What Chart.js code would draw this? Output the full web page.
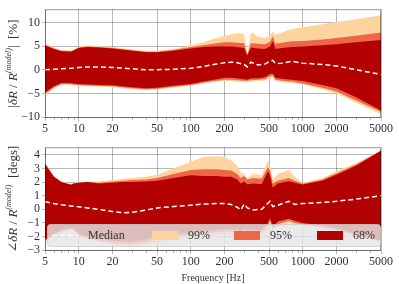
<!DOCTYPE html>
<html>
<head>
<meta charset="utf-8">
<script src="https://cdn.jsdelivr.net/npm/chart.js@4/dist/chart.umd.min.js"></script>
<style>
	body{margin:0;background:#fff;width:399px;height:284px;overflow:hidden;position:relative}
	canvas{position:absolute;left:0}
	#magChart{top:0}
	#phaseChart{top:138px}
</style>
</head>
<body>
<canvas id="magChart" width="399" height="138" style="width:399px;height:138px"></canvas>
<canvas id="phaseChart" width="399" height="146" style="width:399px;height:146px"></canvas>
<script>
// tick labels
const	xTicks = [5, 10, 20, 50, 100, 200, 500, 1000, 2000, 5000],
		magTicks = [-10, -5, 0, 5, 10],
		phaseTicks = [-3, -2, -1, 0, 1, 2, 3, 4],
		legendLabels = ['Median', '99%', '95%', '68%'];

// magnitude panel [%]
const	magFreq = [5, 6, 7, 8.5, 9, 10, 12, 15, 20, 30, 40, 50, 70, 100, 130, 170, 200, 230, 260, 300, 320, 345, 400, 460, 510, 540, 570, 650, 800, 1000, 1500, 2000, 3000, 5000],
		magMedian = [0.0, 0.1, 0.2, 0.3, 0.35, 0.5, 0.6, 0.6, 0.5, 0.2, 0.0, 0.0, 0.1, 0.3, 0.7, 1.2, 1.5, 1.6, 1.5, 1.1, 0.6, 1.6, 1.0, 1.2, 1.8, 2.0, 1.3, 1.4, 1.8, 1.4, 1.1, 0.8, 0.0, -1.0],
		mag68Hi = [5.2, 4.4, 3.9, 3.8, 4.0, 4.6, 4.8, 4.7, 4.5, 4.0, 3.7, 3.7, 4.0, 4.5, 4.8, 4.9, 4.9, 4.9, 4.8, 4.6, 3.0, 4.7, 4.5, 4.4, 4.9, 6.0, 4.4, 4.6, 4.8, 4.9, 5.2, 5.4, 5.8, 6.3],
		mag68Lo = [-4.8, -3.5, -2.8, -2.8, -2.9, -3.0, -3.1, -3.2, -3.3, -3.7, -3.9, -3.8, -3.4, -3.0, -2.5, -2.0, -1.7, -1.7, -1.8, -2.0, -2.1, -1.8, -1.8, -1.6, -0.9, -0.8, -1.7, -1.9, -2.1, -2.4, -3.2, -3.9, -5.8, -8.6],
		mag95Hi = [5.3, 4.5, 4.0, 3.9, 4.1, 4.7, 4.9, 4.8, 4.6, 4.1, 3.8, 3.8, 4.2, 4.8, 5.2, 5.6, 5.8, 5.8, 5.7, 5.6, 3.1, 5.6, 5.5, 5.4, 5.9, 7.1, 5.5, 5.7, 6.0, 6.1, 6.4, 6.7, 7.2, 7.9],
		mag95Lo = [-5.1, -3.7, -3.0, -3.0, -3.1, -3.2, -3.3, -3.4, -3.5, -3.9, -4.1, -4.0, -3.6, -3.2, -2.7, -2.3, -2.1, -2.1, -2.2, -2.3, -2.3, -2.2, -2.1, -2.0, -1.4, -1.2, -2.1, -2.3, -2.5, -2.9, -3.8, -4.6, -6.5, -8.9],
		mag99Hi = [5.5, 4.7, 4.2, 4.1, 4.3, 4.9, 5.1, 5.0, 4.8, 4.3, 4.0, 4.0, 4.4, 5.1, 5.8, 6.7, 7.2, 7.5, 7.7, 7.6, 3.2, 7.9, 7.0, 6.7, 7.2, 8.1, 7.4, 7.9, 8.6, 9.0, 9.6, 10.1, 10.7, 11.5],
		mag99Lo = [-5.5, -3.9, -3.2, -3.2, -3.3, -3.4, -3.5, -3.6, -3.7, -4.1, -4.3, -4.2, -3.8, -3.4, -2.9, -2.5, -2.4, -2.4, -2.5, -2.6, -2.6, -2.5, -2.4, -2.3, -1.7, -1.5, -2.4, -2.6, -2.8, -3.1, -4.1, -5.0, -7.0, -9.4];

// phase panel [degs]
const	phaseFreq = [5, 6, 7, 8.5, 9, 10, 12, 15, 20, 25, 30, 40, 50, 70, 100, 130, 170, 200, 230, 260, 280, 300, 320, 360, 430, 490, 510, 540, 600, 750, 850, 1000, 1500, 2000, 3000, 5000],
		phaseMedian = [0.55, 0.42, 0.33, 0.25, 0.22, 0.18, 0.1, 0.0, -0.17, -0.25, -0.22, -0.05, 0.1, 0.2, 0.3, 0.38, 0.42, 0.42, 0.35, 0.15, -0.05, 0.38, 0.1, -0.05, 0.0, 0.45, 0.59, 0.2, 0.3, 0.59, 0.36, 0.42, 0.5, 0.59, 0.75, 1.0],
		phase68Hi = [3.35, 2.4, 2.0, 1.8, 1.9, 1.95, 2.0, 1.9, 1.95, 2.0, 2.0, 2.05, 2.1, 2.3, 2.5, 2.45, 2.45, 2.4, 2.4, 2.2, 1.9, 2.05, 1.85, 1.9, 1.85, 2.8, 2.5, 1.6, 1.9, 2.07, 1.95, 1.83, 2.1, 2.55, 3.2, 4.3],
		phase68Lo = [-2.2, -1.8, -1.5, -1.35, -1.4, -1.8, -2.0, -2.15, -2.3, -2.35, -2.35, -2.2, -2.0, -1.8, -1.7, -1.6, -1.5, -1.45, -1.45, -1.5, -1.6, -1.4, -1.5, -1.55, -1.5, -1.0, -0.65, -1.3, -0.9, -0.7, -0.85, -1.0, -1.2, -1.4, -1.8, -2.3],
		phase95Hi = [3.35, 2.4, 2.0, 1.8, 1.9, 1.95, 2.0, 1.95, 2.05, 2.1, 2.15, 2.2, 2.3, 2.6, 2.9, 2.95, 2.95, 2.9, 2.85, 2.6, 2.3, 2.45, 2.2, 2.3, 2.25, 3.1, 2.9, 1.9, 2.1, 2.3, 2.1, 1.88, 2.2, 2.65, 3.3, 4.3],
		phase95Lo = [-2.3, -1.9, -1.6, -1.45, -1.5, -1.9, -2.1, -2.3, -2.45, -2.55, -2.55, -2.4, -2.2, -2.0, -1.9, -1.8, -1.7, -1.65, -1.65, -1.7, -1.8, -1.6, -1.7, -1.75, -1.7, -1.2, -0.8, -1.4, -1.1, -0.85, -1.0, -1.1, -1.3, -1.5, -1.9, -2.35],
		phase99Hi = [3.4, 2.45, 2.05, 1.85, 1.95, 2.0, 2.05, 2.05, 2.15, 2.25, 2.3, 2.4, 2.55, 3.0, 3.5, 3.85, 3.9, 3.85, 3.6, 3.2, 2.7, 2.6, 2.3, 2.6, 2.55, 3.6, 3.2, 2.2, 2.6, 2.9, 2.4, 1.95, 2.3, 2.8, 3.4, 4.35],
		phase99Lo = [-2.4, -2.0, -1.7, -1.55, -1.6, -2.0, -2.2, -2.4, -2.6, -2.75, -2.8, -2.6, -2.4, -2.2, -2.1, -2.0, -1.9, -1.85, -1.85, -1.9, -2.0, -1.8, -1.9, -1.95, -1.9, -1.4, -1.0, -1.5, -1.3, -1.0, -1.15, -1.2, -1.4, -1.6, -2.0, -2.4];

const	c99 = '#fdd49e',
		c95 = '#ef6548',
		c68 = '#b30000',
		textColor = '#333',
		gridColor = 'rgba(0,0,0,0.28)',
		serif = '"Liberation Serif", "DejaVu Serif", serif';

const pts = (freq, vals) => freq.map((f, i) => ({x: f, y: vals[i]}));

function band(freq, hi, lo, color){
	const base = {borderWidth: 0, borderColor: 'transparent', pointRadius: 0, tension: 0};
	return [
		{...base, data: pts(freq, hi), backgroundColor: color, fill: '+1'},
		{...base, data: pts(freq, lo), fill: false}
	];
}

function getChartData(freq, med, b68, b95, b99){
	return {
		datasets: [
			{data: pts(freq, med), borderColor: '#fff', borderWidth: 1.5, borderDash: [5, 3], pointRadius: 0, fill: false, tension: 0},
			...band(freq, b68[0], b68[1], c68),
			...band(freq, b95[0], b95[1], c95),
			...band(freq, b99[0], b99[1], c99)
		]
	}
}

const minus = v => v < 0 ? '\u2212' + (-v) : String(v);

function getScales(yMin, yMax, yTicks, xHeight, onTop, xTitle){
	return {
		x: {
			type: 'logarithmic', min: 5, max: 5000, z: onTop ? 1 : 0,
			afterBuildTicks: s => { s.ticks = xTicks.map(v => ({value: v})) },
			afterFit: s => { s.height = xHeight },
			ticks: {callback: v => String(v), autoSkip: false, maxRotation: 0, padding: 1, color: textColor, font: {family: serif, size: 12}},
			grid: {color: gridColor, tickLength: 3},
			border: {display: false},
			title: {display: !!xTitle, text: xTitle || '', color: textColor, font: {family: serif, size: 10}, padding: {top: 1, bottom: 0}}
		},
		y: {
			min: yMin, max: yMax, z: onTop ? 1 : 0,
			afterBuildTicks: s => { s.ticks = yTicks.map(v => ({value: v})) },
			afterFit: s => { s.width = 45 },
			ticks: {callback: minus, autoSkip: false, padding: 2, color: textColor, font: {family: serif, size: 12}},
			grid: {color: gridColor, tickLength: 3},
			border: {display: false}
		}
	}
}

// frame, minor ticks and rich y title
const decor = {
	id: 'decor',
	afterDraw(chart, args, opts){
		const ctx = chart.ctx, a = chart.chartArea, xs = chart.scales.x;
		ctx.save();
		ctx.strokeStyle = 'rgba(0,0,0,0.4)';
		ctx.lineWidth = 1;
		ctx.strokeRect(a.left + 0.5, a.top + 0.5, a.right - a.left - 1, a.bottom - a.top - 1);
		ctx.strokeStyle = gridColor;
		ctx.beginPath();
		for (let d = 1; d <= 1000; d *= 10){
			for (let m = 2; m <= 9; m++){
				const v = m * d;
				if (v < 5 || v > 5000 || xTicks.includes(v)) continue;
				const px = Math.round(xs.getPixelForValue(v)) + 0.5;
				ctx.moveTo(px, a.bottom);
				ctx.lineTo(px, a.bottom + 2);
			}
		}
		ctx.stroke();
		drawRich(ctx, opts.title, 14, (a.top + a.bottom) / 2, 13);
		if (opts.legend) drawLegend(ctx);
		ctx.restore();
	}
};

function drawRich(ctx, segs, cx, cy, size){
	const fontFor = s => (s.it ? 'italic ' : '') + (s.sup ? size * 0.62 : size) + 'px ' + serif;
	let total = 0;
	segs.forEach(s => { ctx.font = fontFor(s); s.w = ctx.measureText(s.t).width; total += s.w; });
	ctx.save();
	ctx.translate(cx, cy);
	ctx.rotate(-Math.PI / 2);
	ctx.fillStyle = textColor;
	ctx.textBaseline = 'middle';
	let x = -total / 2;
	segs.forEach(s => {
		ctx.font = fontFor(s);
		ctx.fillText(s.t, x, s.sup ? -size * 0.38 : 0);
		x += s.w;
	});
	ctx.restore();
}

function drawLegend(ctx){
	ctx.fillStyle = 'rgba(229,229,229,0.82)';
	ctx.strokeStyle = 'rgba(204,204,204,0.8)';
	ctx.beginPath();
	ctx.roundRect(47.5, 86.5, 333, 22, 3);
	ctx.fill();
	ctx.stroke();
	ctx.font = '12px ' + serif;
	ctx.textBaseline = 'middle';
	const cy = 97.5, swX = [152, 234, 317], swC = [c99, c95, c68];
	ctx.strokeStyle = '#fff';
	ctx.lineWidth = 1.5;
	ctx.setLineDash([5, 3]);
	ctx.beginPath();
	ctx.moveTo(52, cy);
	ctx.lineTo(78, cy);
	ctx.stroke();
	ctx.setLineDash([]);
	ctx.fillStyle = textColor;
	ctx.fillText(legendLabels[0], 88, cy);
	swX.forEach((x, i) => {
		ctx.fillStyle = swC[i];
		ctx.fillRect(x, cy - 4.5, 26, 9);
		ctx.fillStyle = textColor;
		ctx.fillText(legendLabels[i + 1], x + 36, cy);
	});
}

function getChartOptions(scales, title, legend, padTop){
	return {
		responsive: false,
		animation: false,
		layout: {padding: {left: 0, right: 18, top: padTop, bottom: 0}},
		scales: scales,
		plugins: {
			legend: {display: false},
			tooltip: {enabled: false},
			decor: {title: title, legend: legend}
		}
	}
}

const magTitle = [{t: '|'}, {t: '\u03b4R', it: true}, {t: ' / '}, {t: 'R', it: true}, {t: '(model)', sup: true, it: true}, {t: '|  [%]'}],
	phaseTitle = [{t: '\u2220'}, {t: '\u03b4R', it: true}, {t: ' / '}, {t: 'R', it: true}, {t: '(model)', sup: true, it: true}, {t: '  [degs]'}];

new Chart(document.getElementById('magChart'), {
	type: 'line',
	data: getChartData(magFreq, magMedian, [mag68Hi, mag68Lo], [mag95Hi, mag95Lo], [mag99Hi, mag99Lo]),
	options: getChartOptions(getScales(-10.2, 12.8, magTicks, 20, false), magTitle, false, 5),
	plugins: [decor]
});

new Chart(document.getElementById('phaseChart'), {
	type: 'line',
	data: getChartData(phaseFreq, phaseMedian, [phase68Hi, phase68Lo], [phase95Hi, phase95Lo], [phase99Hi, phase99Lo]),
	options: getChartOptions(getScales(-3.07, 4.57, phaseTicks, 33, true, 'Frequency [Hz]'), phaseTitle, true, 5),
	plugins: [decor]
});
</script>
</body>
</html>
